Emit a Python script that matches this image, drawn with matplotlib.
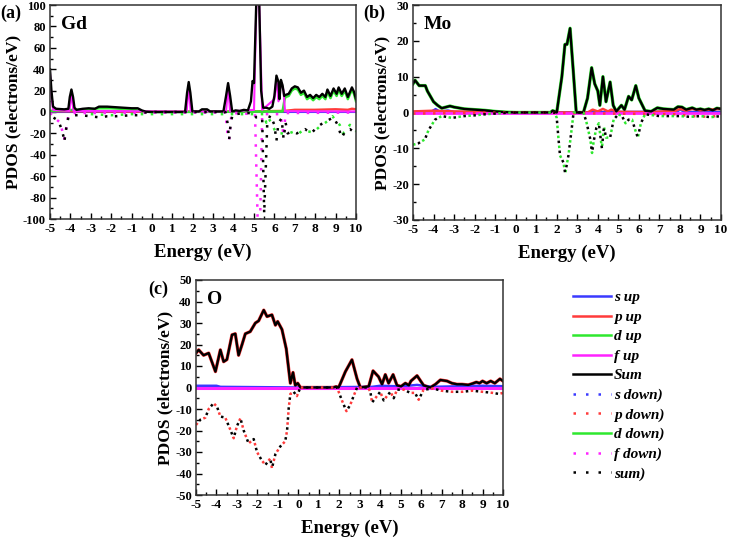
import matplotlib
matplotlib.use("Agg")
import matplotlib.pyplot as plt
from matplotlib.lines import Line2D
from matplotlib.ticker import MultipleLocator

plt.rcParams['font.family'] = ['Liberation Serif', 'DejaVu Serif']
plt.rcParams['font.weight'] = 'bold'
plt.rcParams['axes.unicode_minus'] = False

# ---------------- data ----------------
energy_ticks = list(range(-5, 11))
panel_labels = ['(a)', '(b)', '(c)']
element_names = ['Gd', 'Mo', 'O']
legend_labels = ['s up', 'p up', 'd up', 'f up', 'Sum',
                 's down)', 'p down)', 'd down)', 'f down)', 'sum)']

# Gd
gd_sum_up_e = [-5.0, -4.93, -4.85, -4.7, -4.3, -4.1, -4.03, -3.95, -3.87, -3.8, -3.7, -3.4, -3.1, -2.8, -2.6,
               -2.2, -1.8, -1.4, -1.0, -0.7, -0.5, -0.3, 0.0, 1.62, 1.72, 1.8, 1.88, 1.98, 2.3, 2.45, 2.7,
               2.85, 3.5, 3.63, 3.73, 3.83, 3.93, 4.1, 4.3, 4.5, 4.7, 4.85, 4.93, 5.0, 5.12, 5.25, 5.35, 5.45,
               5.6, 5.75, 5.9, 6.0, 6.1, 6.2, 6.25, 6.32, 6.4, 6.48, 6.55, 6.7, 6.85, 7.0, 7.15, 7.3, 7.45,
               7.6, 7.75, 7.9, 8.05, 8.2, 8.35, 8.5, 8.6, 8.75, 8.9, 9.05, 9.15, 9.3, 9.45, 9.6, 9.8, 9.9, 10.0]
gd_sum_up_v = [40, 20, 5, 3, 2.5, 3, 14, 21, 14, 4, 2, 3, 3.5, 3, 5,
               5, 4.5, 4, 3.5, 3.5, 1.5, 0.3, 0, 0, 18, 28, 18, 0.5, 0.5, 2.5, 2.5,
               0.5, 0.5, 15, 27, 15, 0.5, 1.5, 1, 2, 1.5, 10, 29, 27, 108, 108, 20, 4,
               4, 3, 5, 15, 34, 28, 12, 30, 25, 15, 16, 17, 22, 24, 23, 18, 20,
               14, 16, 13, 16, 14, 17, 14, 21, 15, 22, 17, 23, 17, 22, 14, 23, 19, 12]
gd_d_up_e = [-5.0, -4.5, -3.0, -2.6, -2.0, -1.0, -0.5, 0.0, 6.4, 6.5, 6.55, 6.7, 6.85, 7.0, 7.15, 7.3, 7.45,
             7.6, 7.75, 7.9, 8.05, 8.2, 8.35, 8.5, 8.6, 8.75, 8.9, 9.05, 9.15, 9.3, 9.45, 9.6, 9.8, 9.9, 10.0]
gd_d_up_v = [1, 1.5, 2.5, 3.5, 3.5, 2.5, 0.5, 0, 0.5, 12, 14, 15, 20, 22, 21, 16, 18,
             12, 14, 11, 14, 12, 15, 12, 19, 13, 20, 15, 21, 15, 20, 12, 21, 17, 10]
gd_f_up_e = [-5.0, -4.93, -4.85, -4.05, -3.95, -3.85, 1.7, 1.8, 1.9, 3.63, 3.73, 3.83, 5.0, 5.12, 5.25, 5.4,
             6.0, 6.1, 6.2, 6.32, 6.45, 6.52, 10.0]
gd_f_up_v = [36, 15, 2, 1, 18, 1, 0.5, 25, 0.5, 0.5, 25, 0.5, 2, 105, 105, 2,
             12, 31, 10, 28, 20, 0.8, 0.5]
gd_p_up_e = [-5.0, 0.0, 5.0, 6.5, 7.0, 8.0, 9.0, 9.6, 9.8, 10.0]
gd_p_up_v = [0.8, 0.3, 0.5, 1.0, 2.0, 2.0, 2.5, 2.0, 3.0, 2.5]
gd_s_up_e = [-5.0, 10.0]
gd_s_up_v = [0.3, 0.3]
gd_sum_dn_e = [-5.0, -4.85, -4.6, -4.45, -4.35, -4.3, -4.2, -4.1, -3.9, -3.5, -3.0, -2.6, -2.2, -1.8, -1.4,
               -1.0, -0.7, -0.4, 0.0, 3.6, 3.7, 3.78, 3.85, 3.95, 4.1, 4.5, 5.0, 5.1, 5.4, 5.5, 5.6, 5.65,
               5.8, 6.0, 6.1, 6.2, 6.35, 6.45, 6.55, 6.65, 6.9, 7.1, 7.3, 7.5, 7.8, 8.1, 8.4, 8.7, 8.9, 9.1,
               9.3, 9.5, 9.7, 9.85, 10.0]
gd_sum_dn_v = [-2, -5, -8, -15, -22, -28, -15, -5, -3, -3, -4, -5, -4, -4, -3.5,
               -3, -3, -0.5, 0, 0, -10, -26, -12, -2, -2, -1, -1, -5, -5, -95, -40, -10,
               -3, -12, -27, -10, -6, -25, -10, -20, -18, -20, -18, -16, -20, -14, -10, -7, -5, -12,
               -24, -17, -16, -18, -19]
gd_f_dn_e = [-5.0, -4.8, -4.5, -4.3, -4.1, -3.8, 3.6, 3.7, 3.78, 3.9, 5.05, 5.18, 5.3, 5.4, 6.3, 6.45, 6.55, 10.0]
gd_f_dn_v = [-1, -5, -10, -25, -3, -1, -0.5, -20, -26, -1, -2, -102, -102, -2, -2, -22, -1, -0.5]
gd_d_dn_e = [-3.0, -2.0, -1.0, 5.5, 5.6, 5.7, 6.1, 6.5, 6.7, 7.0, 7.2, 7.4, 7.6, 7.9, 8.2, 8.5, 8.7, 8.85, 9.0,
             9.2, 9.35, 9.5, 9.7, 9.9, 10.0]
gd_d_dn_v = [-2, -3, -2, -2, -10, -5, -20, -20, -20, -18, -20, -17, -18, -19, -14, -10, -7, -4, -8,
             -12, -20, -18, -12, -17, -18]

# Mo
mo_sum_up_e = [-5.0, -4.9, -4.7, -4.4, -4.3, -4.0, -3.9, -3.8, -3.6, -3.2, -3.0, -2.5, -2.0, -1.5, -1.0, -0.5,
               0.0, 1.7, 1.8, 1.9, 2.0, 2.25, 2.4, 2.5, 2.65, 2.8, 2.95, 3.3, 3.5, 3.7, 3.85, 4.0, 4.1, 4.25,
               4.4, 4.6, 4.75, 4.9, 5.15, 5.3, 5.5, 5.65, 5.85, 6.0, 6.3, 6.6, 6.9, 7.2, 7.7, 7.9, 8.1, 8.3,
               8.6, 8.8, 9.0, 9.2, 9.4, 9.6, 9.8, 10.0]
mo_sum_up_v = [8, 9, 7.5, 7.5, 6, 3, 2.5, 2, 1.2, 1.8, 1.5, 1, 0.8, 0.6, 0.3, 0.1,
               0, 0, 0.5, 0.3, 0, 10, 19, 19, 23.5, 12, 0, 0, 4, 12.5, 8, 6, 2, 10,
               3, 8.5, 2, 0.3, 2, 0.8, 4.5, 3.5, 7.5, 4, 0.5, 0.3, 1.3, 1, 0.8, 1.6, 1.5, 0.8,
               1.3, 0.8, 1.0, 0.7, 1.0, 0.6, 1.2, 1.0]
mo_p_up_e = [-5.0, -4.0, -3.0, 0.0, 3.5, 3.75, 4.0, 4.25, 4.5, 4.65, 5.0, 6.5, 7.8, 8.0, 8.3, 8.6, 9.0, 9.5, 10.0]
mo_p_up_v = [0.3, 0.5, 0.3, 0, 0, 0.8, 0.3, 1.0, 0.3, 0.8, 0.2, 0.1, 0.5, 1.0, 0.5, 1.0, 0.6, 0.8, 1.0]
mo_s_up_e = [-5.0, -4.1, -3.9, -3.7, -3.3, -3.0, 0.0, 7.9, 8.0, 8.2, 10.0]
mo_s_up_v = [0.2, 0.3, 1.0, 0.3, 0.6, 0.2, 0, 0.3, 0.8, 0.2, 0.2]
mo_f_up_e = [-5.0, 10.0]
mo_f_up_v = [0.0, 0.0]
mo_sum_dn_e = [-5.0, -4.74, -4.42, -4.25, -3.93, -3.6, -3.1, -2.5, -2.0, -1.5, -1.0, -0.5, 0.0, 1.9, 2.0, 2.08,
               2.16, 2.33, 2.41, 2.57, 2.74, 2.82, 3.3, 3.44, 3.64, 3.72, 3.8, 3.93, 4.05, 4.2, 4.3, 4.4,
               4.6, 4.77, 5.0, 5.18, 5.35, 5.5, 5.67, 5.83, 5.95, 6.1, 6.3, 7.0, 8.0, 8.5, 9.0, 9.5, 10.0]
mo_sum_dn_v = [-9, -8.6, -7.5, -5, -2, -1, -1.5, -1, -0.8, -0.5, -0.3, -0.1, 0, 0, -1.5, -7,
               -12, -14, -17, -12, -4, 0, 0, -2.5, -7.6, -11.3, -8, -4.3, -3, -10, -4, -7,
               -7, -2, -0.5, -1, -3, -2, -2, -5, -7, -3, -0.5, -1, -1, -1.2, -1, -1.3, -1]
mo_p_dn_e = [-5.0, 0.0, 7.8, 8.5, 9.5, 10.0]
mo_p_dn_v = [-0.3, 0, -0.5, -1.0, -1.2, -0.8]

# O
o_sum_up_e = [-5.0, -4.87, -4.63, -4.38, -4.05, -3.81, -3.65, -3.49, -3.24, -3.08, -2.92, -2.75, -2.59, -2.35,
              -2.1, -1.94, -1.69, -1.53, -1.29, -1.12, -1.01, -0.8, -0.59, -0.39, -0.26, -0.15, -0.03, 0.1,
              1.7, 1.85, 1.97, 2.3, 2.62, 2.87, 3.03, 3.44, 3.65, 3.92, 4.09, 4.25, 4.41, 4.63, 4.82, 5.02,
              5.23, 5.4, 5.5, 5.8, 6.12, 6.45, 6.7, 6.94, 7.27, 7.5, 7.75, 8.0, 8.3, 8.5, 8.7, 8.85, 9.0,
              9.2, 9.4, 9.6, 9.85, 10.0]
o_sum_up_v = [16, 17.5, 15, 16, 7.4, 17.5, 12, 13, 24.5, 25, 15, 20, 25, 26,
              30, 31, 36, 33, 33.8, 29, 30.7, 27, 18, 2, 7, 1, 2, 0,
              0, 0.4, 0, 7.4, 12.9, 4, 0, 0.5, 7.75, 5, 1.5, 6, 2, 6, 1, 0.5,
              2, 1, 3, 5.5, 1, 0, 1.5, 3.5, 3, 2, 1.5, 1.5, 1.2, 1.8, 2.5, 2, 3,
              2, 3, 2, 4, 3]
o_s_up_e = [-5.0, -4.0, -3.8, 0.0, 3.6, 4.0, 5.0, 5.8, 6.5, 9.0, 10.0]
o_s_up_v = [0.8, 0.8, 0.3, 0, 0.3, 0.8, 0.5, 1.2, 0.3, 0.8, 0.6]
o_f_up_e = [-5.0, 10.0]
o_f_up_v = [0.0, 0.0]
o_sum_dn_e = [-5.0, -4.79, -4.54, -4.38, -4.14, -3.97, -3.81, -3.57, -3.32, -3.16, -3.0, -2.83, -2.67, -2.43,
              -2.18, -2.02, -1.78, -1.61, -1.37, -1.29, -1.12, -0.88, -0.64, -0.55, -0.47, -0.39, -0.23,
              -0.07, 0.1, 1.9, 1.97, 2.13, 2.35, 2.54, 2.7, 2.87, 3.4, 3.52, 3.6, 3.84, 4.0, 4.17, 4.33, 4.5,
              4.66, 4.82, 5.15, 5.47, 5.7, 5.88, 6.12, 6.6, 7.0, 7.5, 8.0, 8.5, 9.0, 9.5, 9.8, 10.0]
o_sum_dn_v = [-17.4, -15, -14, -10, -7.3, -9, -13.5, -14, -19.7, -23.6, -18, -14.3, -20, -26,
              -24, -30, -34, -36, -33, -37.5, -31, -27.4, -25, -20, -9.6, -3, -2,
              -4, 0, 0, -2, -6, -11, -8, -4, 0, 0, -2, -7, -4, -2, -6, -4, -2,
              -5, -1, -1, -2.5, -2.5, -5.7, -1, -0.5, -1.5, -2, -2, -1.5, -2, -2.5, -3, -2.5]

# ---------------- styling ----------------
C_S, C_P, C_D, C_F, C_SUM = '#3a3aff', '#ff3b3b', '#2ee82e', '#ff22ff', '#000000'
DOT_A = (0, (1, 3))
DOT_B = (2, (1, 3))

fig = plt.figure(figsize=(7.29, 5.40), dpi=100)
W, H = 729, 540

def add_ax(l, t, r, b):
    return fig.add_axes([l / W, 1 - b / H, (r - l) / W, (b - t) / H])

ax_a = add_ax(50, 5, 356, 219)
ax_b = add_ax(413, 5, 721, 220)
ax_c = add_ax(196, 280, 503, 495)

def style(ax, ylim, ymaj, ymin):
    ax.set_xlim(-5, 10)
    ax.set_ylim(*ylim)
    ax.set_xticks(energy_ticks)
    ax.xaxis.set_minor_locator(MultipleLocator(0.5))
    ax.yaxis.set_major_locator(MultipleLocator(ymaj))
    ax.yaxis.set_minor_locator(MultipleLocator(ymin))
    ax.tick_params(which='both', direction='in', top=False, right=False, pad=3)
    ax.tick_params(axis='x', labelsize=9.5)
    ax.tick_params(axis='y', labelsize=9)
    ax.tick_params(which='major', length=4, width=1)
    ax.tick_params(which='minor', length=2.5, width=1)
    for lab in ax.get_xticklabels() + ax.get_yticklabels():
        lab.set_fontweight('bold')
    for sp in ax.spines.values():
        sp.set_linewidth(1.1)
        sp.set_color('#333333')
    ax.set_xlabel('Energy (eV)', fontsize=13.5, fontweight='bold', labelpad=6)
    ax.set_ylabel('PDOS (electrons/eV)', fontsize=12.5, fontweight='bold', labelpad=1)

# Panel (a) Gd
ax = ax_a
ax.plot(gd_s_up_e, gd_s_up_v, color=C_S, lw=1.5)
ax.plot(gd_p_up_e, gd_p_up_v, color=C_P, lw=1.8)
ax.plot(gd_d_up_e, gd_d_up_v, color=C_D, lw=1.8)
ax.plot(gd_f_up_e, gd_f_up_v, color=C_F, lw=1.5)
ax.plot(gd_sum_up_e, gd_sum_up_v, color=C_SUM, lw=1.7)
ax.plot(gd_d_dn_e, gd_d_dn_v, color=C_D, lw=1.8, ls=DOT_A)
ax.plot(gd_f_dn_e, gd_f_dn_v, color=C_F, lw=1.8, ls=DOT_A)
ax.plot(gd_sum_dn_e, gd_sum_dn_v, color=C_SUM, lw=1.8, ls=DOT_B)
style(ax, (-100, 100), 20, 10)

# Panel (b) Mo
ax = ax_b
ax.plot(mo_sum_up_e, mo_sum_up_v, color=C_D, lw=2.4)
ax.plot(mo_s_up_e, mo_s_up_v, color=C_S, lw=1.5)
ax.plot(mo_p_up_e, mo_p_up_v, color=C_P, lw=1.8)
ax.plot(mo_f_up_e, mo_f_up_v, color=C_F, lw=2.0)
ax.plot(mo_sum_up_e, mo_sum_up_v, color=C_SUM, lw=1.7)
ax.plot(mo_p_dn_e, mo_p_dn_v, color=C_P, lw=1.8, ls=DOT_A)
ax.plot(mo_sum_dn_e, mo_sum_dn_v, color=C_D, lw=1.8, ls=DOT_A)
ax.plot(mo_sum_dn_e, mo_sum_dn_v, color=C_SUM, lw=1.8, ls=DOT_B)
style(ax, (-30, 30), 10, 5)

# Panel (c) O
ax = ax_c
ax.plot(o_sum_up_e, o_sum_up_v, color=C_P, lw=2.4)
ax.plot(o_s_up_e, o_s_up_v, color=C_S, lw=1.8)
ax.plot(o_f_up_e, o_f_up_v, color=C_F, lw=2.2)
ax.plot(o_sum_up_e, o_sum_up_v, color=C_SUM, lw=1.7)
ax.plot(o_sum_dn_e, o_sum_dn_v, color=C_P, lw=1.8, ls=DOT_A)
ax.plot(o_sum_dn_e, o_sum_dn_v, color=C_SUM, lw=1.8, ls=DOT_B)
style(ax, (-50, 50), 10, 5)

# element names and panel labels
for ax, name in zip([ax_a, ax_b, ax_c], element_names):
    ax.text(0.035, 0.91, name, transform=ax.transAxes, fontsize=14, fontweight='bold',
            ha='left', va='center')
for (x, y), lab in zip([(0, 13), (363, 13), (148, 289)], panel_labels):
    fig.text(x / W, 1 - y / H, lab, fontsize=13, fontweight='bold', ha='left', va='center')

# legend
handles = [Line2D([], [], color=C_S, lw=1.8), Line2D([], [], color=C_P, lw=1.8),
           Line2D([], [], color=C_D, lw=1.8), Line2D([], [], color=C_F, lw=1.8),
           Line2D([], [], color=C_SUM, lw=1.8),
           Line2D([], [], color=C_S, lw=1.8, ls=(0, (1, 4))), Line2D([], [], color=C_P, lw=1.8, ls=(0, (1, 4))),
           Line2D([], [], color=C_D, lw=1.8), Line2D([], [], color=C_F, lw=1.8, ls=(0, (1, 4))),
           Line2D([], [], color=C_SUM, lw=1.8, ls=(0, (1, 4)))]
leg = fig.legend(handles, legend_labels, loc='upper left', bbox_to_anchor=(559 / W, 1 - 277 / H),
                 frameon=False, handlelength=2.5, handletextpad=0.2, labelspacing=0.38,
                 prop={'family': 'Liberation Serif', 'style': 'italic', 'weight': 'bold', 'size': 11})

fig.savefig('out.png', dpi=100)
